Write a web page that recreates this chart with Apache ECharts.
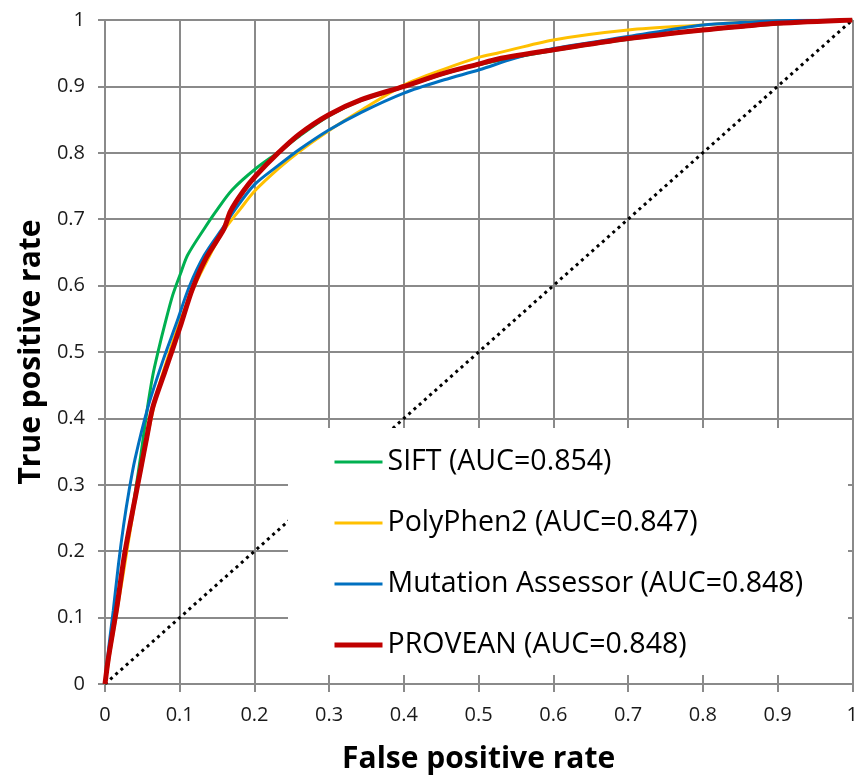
<!DOCTYPE html>
<html>
<head>
<meta charset="utf-8">
<script src="https://cdn.jsdelivr.net/npm/echarts@6/dist/echarts.min.js"></script>
<style>
  html, body { margin: 0; padding: 0; background: #fff; }
  #chart { width: 861px; height: 779px; }
</style>
</head>
<body>
<div id="chart"></div>
<script>
// ROC curves, values
const ticks = [0, 0.1, 0.2, 0.3, 0.4, 0.5, 0.6, 0.7, 0.8, 0.9, 1]

const siftX = [0, 0.005, 0.016, 0.028, 0.04, 0.048, 0.056, 0.064, 0.072, 0.0797, 0.0907, 0.102, 0.1106, 0.133, 0.148, 0.17, 0.2015, 0.232, 0.26, 0.299, 0.343, 0.4, 0.454, 0.501, 0.6, 0.7, 0.8, 0.9, 1]
const siftY = [0, 0.04, 0.12, 0.2, 0.285, 0.345, 0.41, 0.465, 0.505, 0.54, 0.586, 0.621, 0.646, 0.686, 0.711, 0.744, 0.776, 0.801, 0.825, 0.855, 0.879, 0.899, 0.919, 0.933, 0.954, 0.971, 0.984, 0.994, 1]

const polyX = [0, 0.0089, 0.024, 0.0376, 0.049, 0.06, 0.07, 0.085, 0.1, 0.12, 0.14, 0.157, 0.1815, 0.2, 0.232, 0.26, 0.299, 0.343, 0.4, 0.454, 0.501, 0.5246, 0.6, 0.7, 0.8, 0.857, 0.9, 1]
const polyY = [0, 0.063, 0.163, 0.258, 0.327, 0.39, 0.44, 0.495, 0.545, 0.6, 0.645, 0.68, 0.716, 0.742, 0.776, 0.802, 0.833, 0.864, 0.902, 0.926, 0.944, 0.95, 0.97, 0.985, 0.9925, 0.9965, 0.998, 1]

const maX = [0, 0.005, 0.011, 0.018, 0.025, 0.032, 0.04, 0.0575, 0.0775, 0.0952, 0.113, 0.133, 0.157, 0.175, 0.2, 0.232, 0.26, 0.299, 0.343, 0.4, 0.454, 0.501, 0.547, 0.6, 0.7, 0.8, 0.857, 0.9, 1]
const maY = [0, 0.055, 0.11, 0.18, 0.24, 0.29, 0.338, 0.417, 0.487, 0.542, 0.599, 0.646, 0.686, 0.716, 0.752, 0.781, 0.805, 0.834, 0.861, 0.89, 0.91, 0.925, 0.942, 0.957, 0.975, 0.9925, 0.9965, 0.999, 1]

const proveanX = [0, 0.0044, 0.0155, 0.0266, 0.04, 0.048, 0.056, 0.064, 0.08, 0.0907, 0.102, 0.117, 0.135, 0.159, 0.168, 0.185, 0.2015, 0.232, 0.26, 0.299, 0.343, 0.4, 0.454, 0.501, 0.5246, 0.6, 0.7, 0.8, 0.857, 0.9, 1]
const proveanY = [0, 0.038, 0.113, 0.198, 0.278, 0.325, 0.372, 0.417, 0.47, 0.505, 0.543, 0.595, 0.641, 0.685, 0.712, 0.742, 0.765, 0.8, 0.828, 0.857, 0.88, 0.9, 0.92, 0.934, 0.941, 0.955, 0.972, 0.985, 0.991, 0.995, 1]

const randomX = [0, 1]
const randomY = [0, 1]

const names = ['SIFT (AUC=0.854)', 'PolyPhen2 (AUC=0.847)', 'Mutation Assessor (AUC=0.848)', 'PROVEAN (AUC=0.848)']
const colors = ['#00B050', '#FFC000', '#0070C0', '#C00000']
const widths = [3, 3, 3, 5]

const zip = (xs, ys) => xs.map((x, i) => [x, ys[i]])
const curves = [zip(siftX, siftY), zip(polyX, polyY), zip(maX, maY), zip(proveanX, proveanY)]

const gray = '#8a8a8a'
const font = '"Open Sans", "Noto Sans", sans-serif'

let series = [{
  name: 'random',
  type: 'line',
  data: zip(randomX, randomY),
  symbol: 'none',
  silent: true,
  z: 1,
  lineStyle: { color: '#000', width: 3, type: [3, 4] },
}]
curves.map((d, i) => {
  series.push({
    name: names[i],
    type: 'line',
    data: d,
    symbol: 'none',
    smooth: 0.3,
    z: 2,
    lineStyle: { color: colors[i], width: widths[i] },
    itemStyle: { color: colors[i] },
  })
})

const chart = echarts.init(document.getElementById('chart'))
chart.setOption({
  animation: false,
  backgroundColor: '#fff',
  grid: { left: 105, top: 20, right: 3, bottom: 90 },
  xAxis: {
    type: 'value',
    min: ticks[0],
    max: ticks[ticks.length - 1],
    interval: 0.1,
    name: 'False positive rate',
    nameLocation: 'middle',
    nameGap: 60,
    nameTextStyle: { fontFamily: font, fontSize: 30, fontWeight: 'bold', color: '#000' },
    axisLine: { lineStyle: { color: gray, width: 2 } },
    axisTick: { show: true, length: 8, lineStyle: { color: gray, width: 2 } },
    axisLabel: { fontFamily: font, fontSize: 20, color: '#1a1a1a', margin: 21 },
    splitLine: { lineStyle: { color: gray, width: 2 } },
  },
  yAxis: {
    type: 'value',
    min: ticks[0],
    max: ticks[ticks.length - 1],
    interval: 0.1,
    name: 'True positive rate',
    nameLocation: 'middle',
    nameGap: 56,
    nameTextStyle: { fontFamily: font, fontSize: 30, fontWeight: 'bold', color: '#000' },
    axisLine: { show: true, lineStyle: { color: gray, width: 2 } },
    axisTick: { show: true, length: 7, lineStyle: { color: gray, width: 2 } },
    axisLabel: { fontFamily: font, fontSize: 20, color: '#1a1a1a', margin: 20 },
    splitLine: { lineStyle: { color: gray, width: 2 } },
  },
  legend: {
    data: names.map((n, i) => ({ name: n, lineStyle: { width: widths[i] } })),
    orient: 'vertical',
    left: 332,
    top: 447,
    padding: 0,
    itemWidth: 48,
    itemHeight: 14,
    itemGap: 31,
    itemStyle: { color: 'rgba(0,0,0,0)', borderColor: 'rgba(0,0,0,0)', borderWidth: 0 },
    textStyle: { fontFamily: font, fontSize: 28.5, color: '#000', lineHeight: 30 },
  },
  graphic: [{
    type: 'rect',
    z: 3,
    shape: { x: 288, y: 428, width: 560, height: 247 },
    style: { fill: '#fff' },
  }],
  series: series,
})
</script>
</body>
</html>
